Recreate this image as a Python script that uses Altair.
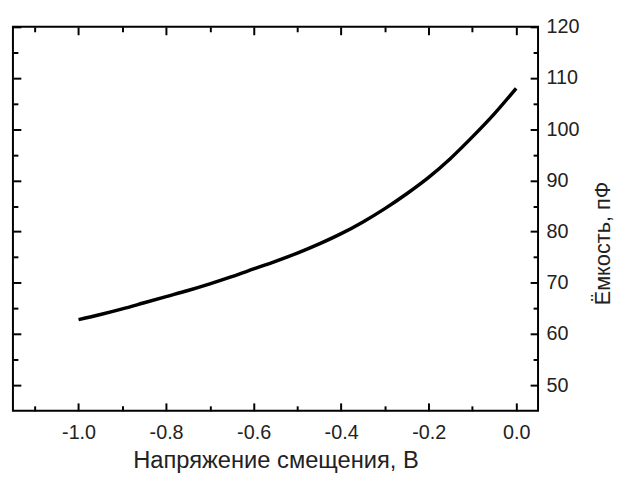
import altair as alt
import pandas as pd

# Data
voltage = [-1.00, -0.95, -0.90, -0.85, -0.80, -0.75, -0.70, -0.65, -0.60, -0.55,
           -0.50, -0.45, -0.40, -0.35, -0.30, -0.25, -0.20, -0.15, -0.10, -0.05, 0.00]
capacitance = [62.8, 63.8, 64.9, 66.1, 67.3, 68.5, 69.8, 71.2, 72.7, 74.2,
               75.8, 77.6, 79.6, 81.9, 84.5, 87.4, 90.6, 94.3, 98.5, 103.0, 108.0]

x_major = [-1.0, -0.8, -0.6, -0.4, -0.2, 0.0]
x_minor = [-1.1, -0.9, -0.7, -0.5, -0.3, -0.1]
y_major = [50, 60, 70, 80, 90, 100, 110, 120]
y_minor = [55, 65, 75, 85, 95, 105, 115]

x_title = "Напряжение смещения, В"
y_title = "Ёмкость, пФ"

df = pd.DataFrame({"v": voltage, "c": capacitance})

W, H = 532, 389
FONT = "Liberation Sans"

xs = alt.Scale(domain=[-1.15, 0.05], nice=False, zero=False)
ys = alt.Scale(domain=[45, 120], nice=False, zero=False)

base = alt.Chart(df)

line = base.mark_line(color="black", strokeWidth=3.5, interpolate="monotone").encode(
    x=alt.X("v:Q", scale=xs, axis=alt.Axis(
        orient="bottom", values=x_major, ticks=False, tickSize=0, domain=False, grid=False,
        labelExpr="replace(format(datum.value, '.1f'), '\u2212', '-')",
        labelPadding=12, labelFontSize=20, labelColor="#222", labelFont=FONT,
        title=x_title, titleFontSize=24, titleFont=FONT, titleFontWeight="normal",
        titleColor="#222", titleBaseline="alphabetic", titleY=57)),
    y=alt.Y("c:Q", scale=ys, axis=alt.Axis(
        orient="right", values=y_major, ticks=False, tickSize=0, domain=False, grid=False,
        format="d", labelPadding=8, labelFontSize=20, labelColor="#222", labelFont=FONT,
        labelAlign="left",
        title=y_title, titleFontSize=22, titleFont=FONT, titleFontWeight="normal",
        titleColor="#222", titleAngle=270, titleBaseline="alphabetic",
        titleAlign="center", titleX=72, titleY=219)),
)


def tick_layer(xorient, yorient, xvals, yvals, size):
    return base.mark_point(opacity=0).encode(
        x=alt.X("v:Q", scale=xs, axis=alt.Axis(
            orient=xorient, offset=-H, values=xvals, labels=False, domain=False,
            grid=False, tickSize=size, tickWidth=2, tickColor="black", title=None)),
        y=alt.Y("c:Q", scale=ys, axis=alt.Axis(
            orient=yorient, offset=-W, values=yvals, labels=False, domain=False,
            grid=False, tickSize=size, tickWidth=2, tickColor="black", title=None)),
    )


layers = [
    line,
    tick_layer("top", "right", x_major, y_major, 8),
    tick_layer("bottom", "left", x_major, y_major, 8),
    tick_layer("top", "right", x_minor, y_minor, 5),
    tick_layer("bottom", "left", x_minor, y_minor, 5),
]

chart = alt.layer(*layers).resolve_axis(
    x="independent", y="independent"
).properties(
    width=W, height=H, autosize="none", background="white",
    padding={"left": 5, "top": 16, "right": 80, "bottom": 65},
).configure_view(
    stroke="black", strokeWidth=2
)

chart.save("out.html", embed_options={"renderer": "svg", "actions": False})
